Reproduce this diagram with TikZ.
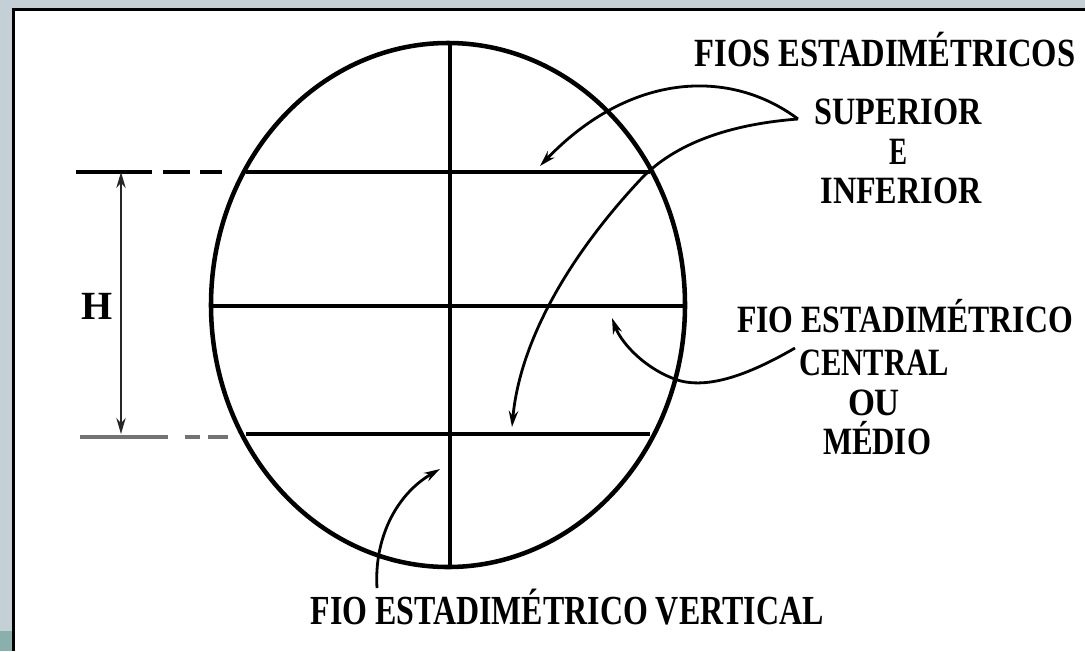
\documentclass[tikz,border=0pt]{standalone}
\usepackage{fontspec}
\setmainfont{Liberation Serif}
\usetikzlibrary{arrows.meta,shapes.geometric}
\definecolor{framegrey}{HTML}{C5D0D6}
\definecolor{frameteal}{HTML}{8AB0AC}
\newcommand\fitlbl[2]{\resizebox{#1}{\height}{#2}}
\begin{document}
\begin{tikzpicture}[x=0.75pt,y=-0.75pt,
  lbl/.style={inner sep=0pt, anchor=base, font=\bfseries\fontsize{29}{29}\selectfont},
  wire/.style={line width=3.4pt},
  pointer/.style={line width=2.1pt, -{Stealth[length=12pt,width=7pt]}},
  dimline/.style={line width=1.5pt, draw=black!85, {Stealth[length=12pt,width=7pt]}-{Stealth[length=12pt,width=7pt]}},
  ext/.style={line width=2.4pt}]
% background and frame
\useasboundingbox (0,0) rectangle (1085,651);
\fill[white] (0,0) rectangle (1085,651);
\fill[framegrey] (0,0) rectangle (1085,8);
\fill[framegrey] (0,0) rectangle (12,651);
\fill[frameteal] (0,631) rectangle (12,651);
\fill[black] (12,8) rectangle (1085,10.5);
\fill[black] (12,8) rectangle (14.5,651);

% reticle
\node[draw, ellipse, line width=3.4pt, minimum width=355.5pt, minimum height=393pt, inner sep=0pt] (reticle) at (448,305) {};
\coordinate (topL) at (246,172); \coordinate (topR) at (650,172);
\coordinate (midL) at (211,306); \coordinate (midR) at (685,306);
\coordinate (botL) at (246,434); \coordinate (botR) at (650,434);
\coordinate (vT) at (450,43);   \coordinate (vB) at (450,566);
\draw[wire] (topL) -- (topR);
\draw[wire] (midL) -- (midR);
\draw[wire] (botL) -- (botR);
\draw[line width=2.6pt] (vT) -- (vB);

% dimension H
\coordinate (hT) at (121,172); \coordinate (hB) at (121,434);
\draw[ext] (76,172) -- (152,172);
\draw[ext] (163,172) -- (190,172);
\draw[ext] (200,172) -- (222,172);
\draw[ext, draw=black!55] (80,437) -- (168,437);
\draw[ext, draw=black!55] (185,437) -- (200,437);
\draw[ext, draw=black!55] (208,437) -- (228,437);
\draw[dimline] (hT) -- (hB);
\node[lbl, font=\bfseries\fontsize{30}{30}\selectfont] (H) at (97,319) {H};

% labels
\node[lbl, font=\bfseries\fontsize{30}{30}\selectfont] (fios) at (885,66) {\fitlbl{285.75pt}{FIOS ESTADIMÉTRICOS}};
\node[lbl] (sup) at (898,124) {\fitlbl{125.25pt}{SUPERIOR}};
\node[lbl] (e) at (898,164) {\fitlbl{13.5pt}{E}};
\node[lbl] (inf) at (901,203) {\fitlbl{120.75pt}{INFERIOR}};
\node[lbl] (fioc) at (905,332) {\fitlbl{252pt}{FIO ESTADIMÉTRICO}};
\node[lbl] (central) at (874,375) {\fitlbl{111.75pt}{CENTRAL}};
\node[lbl] (ou) at (874,415) {\fitlbl{39pt}{OU}};
\node[lbl] (medio) at (877,454) {\fitlbl{81pt}{MÉDIO}};
\node[lbl, font=\bfseries\fontsize{31}{31}\selectfont] (fiov) at (567,624) {\fitlbl{384.75pt}{FIO ESTADIMÉTRICO VERTICAL}};

% pointers
\coordinate (cusp) at (798,119);
\coordinate (tipA) at (540,166);
\coordinate (tipB) at (512,427);
\coordinate (startC) at (795,348);
\coordinate (tipC) at (612,318);
\coordinate (startD) at (377,588);
\coordinate (tipD) at (440,469);
\draw[pointer] (cusp) .. controls (730,68) and (630,72) .. (tipA);
\draw[pointer] (cusp) .. controls (720,125) and (670,148) .. (640,180)
  .. controls (570,255) and (520,340) .. (tipB);
\draw[pointer] (startC) .. controls (740,380) and (700,390) .. (672,378)
  .. controls (640,365) and (620,340) .. (tipC);
\draw[pointer] (startD) .. controls (374,540) and (395,495) .. (tipD);
\end{tikzpicture}
\end{document}
